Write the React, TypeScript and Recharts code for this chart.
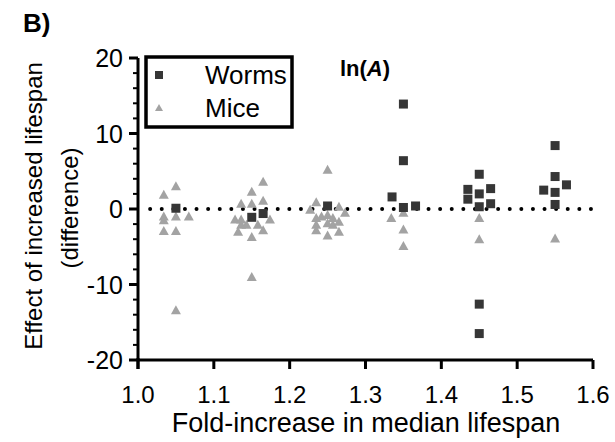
import { ScatterChart, Scatter, XAxis, YAxis, ReferenceLine } from "recharts";

const FONT = '"Liberation Sans", Arial, sans-serif';

// fold-increase in median lifespan (x) vs effect on ln(A) (y)
const wormsX = [1.05, 1.15, 1.165, 1.25, 1.35, 1.35, 1.335, 1.35, 1.366, 1.45, 1.435, 1.45, 1.465, 1.435, 1.45, 1.465, 1.45, 1.45, 1.55, 1.55, 1.565, 1.535, 1.55, 1.55];
const wormsY = [0.1, -1.1, -0.6, 0.4, 13.9, 6.4, 1.6, 0.2, 0.4, 4.6, 2.6, 2.0, 2.7, 1.3, 0.3, 0.7, -12.6, -16.5, 8.4, 4.3, 3.2, 2.5, 2.2, 0.6];

const miceX = [
  1.034, 1.05, 1.034, 1.034, 1.05, 1.067, 1.034, 1.05, 1.05,
  1.165, 1.15, 1.165, 1.136, 1.15, 1.128, 1.136, 1.174, 1.136, 1.143, 1.158, 1.132, 1.165, 1.15, 1.15,
  1.25, 1.235, 1.265, 1.273, 1.235, 1.235, 1.235, 1.242, 1.25, 1.257, 1.25, 1.257, 1.265, 1.265, 1.25, 1.227,
  1.334, 1.35, 1.35, 1.35,
  1.45, 1.45,
  1.55,
];
const miceY = [
  1.9, 3.0, -1.0, -1.5, -1.0, -1.0, -2.9, -2.9, -13.4,
  3.6, 2.3, 1.1, 0.7, 0.7, -1.4, -1.4, -1.4, -2.1, -2.1, -2.1, -3.0, -2.8, -3.7, -9.0,
  5.2, 0.9, 0.3, -0.5, -1.2, -2.1, -2.8, -1.0, -0.8, -1.2, -1.9, -2.1, -1.7, -3.0, -3.5, -0.1,
  -1.2, -0.5, -2.7, -4.9,
  -1.2, -4.0,
  -3.9,
];

const xTicks = [1.0, 1.1, 1.2, 1.3, 1.4, 1.5, 1.6];
const yTicks = [-20, -18, -16, -14, -12, -10, -8, -6, -4, -2, 0, 2, 4, 6, 8, 10, 12, 14, 16, 18, 20];

const worms = wormsX.map((x, i) => ({ x, y: wormsY[i] }));
const mice = miceX.map((x, i) => ({ x, y: miceY[i] }));

const WORM_COLOR = "#363636";
const MICE_COLOR = "#a3a3a3";

const SquareShape = (props: any) => {
  const { cx, cy } = props;
  return <rect x={cx - 4.5} y={cy - 4.5} width={9} height={9} fill={WORM_COLOR} />;
};

const TriangleShape = (props: any) => {
  const { cx, cy } = props;
  return (
    <polygon
      points={`${cx},${cy - 5} ${cx + 5},${cy + 4} ${cx - 5},${cy + 4}`}
      fill={MICE_COLOR}
    />
  );
};

const YTick = (props: any) => {
  const { x, y, payload } = props;
  const major = payload.value % 10 === 0;
  return (
    <g>
      <line x1={x} x2={x - (major ? 9 : 5)} y1={y} y2={y} stroke="#000" strokeWidth={major ? 3 : 2} />
      {major && (
        <text x={x - 15} y={y} textAnchor="end" dominantBaseline="central" fontSize={25} fontFamily={FONT} fill="#000">
          {payload.value}
        </text>
      )}
    </g>
  );
};

const legendItems = [
  { name: "Worms", kind: "square" },
  { name: "Mice", kind: "triangle" },
];

export default function App() {
  return (
    <div style={{ position: "absolute", left: 0, top: 0, width: 615, height: 442, background: "#fff" }}>
      <ScatterChart width={615} height={442} margin={{ top: 58, right: 22, bottom: 0, left: 0 }}>
        <XAxis
          type="number"
          dataKey="x"
          domain={[1.0, 1.6]}
          ticks={xTicks}
          tickFormatter={(v) => v.toFixed(1)}
          height={82}
          axisLine={{ stroke: "#000", strokeWidth: 3 }}
          tickLine={{ stroke: "#000", strokeWidth: 3 }}
          tickSize={9}
          tickMargin={17}
          tick={{ fill: "#000", fontSize: 24, fontFamily: FONT }}
          allowDataOverflow
        />
        <YAxis
          type="number"
          dataKey="y"
          domain={[-20, 20]}
          ticks={yTicks}
          width={138}
          axisLine={{ stroke: "#000", strokeWidth: 3 }}
          tickLine={false}
          tickSize={0}
          tickMargin={0}
          tick={<YTick />}
          interval={0}
          allowDataOverflow
        />
        <Scatter data={mice} shape={<TriangleShape />} isAnimationActive={false} />
        <Scatter data={worms} shape={<SquareShape />} isAnimationActive={false} />
        <ReferenceLine
          segment={[{ x: 1.016, y: 0 }, { x: 1.6, y: 0 }]}
          stroke="#000"
          strokeWidth={4}
          strokeDasharray="0 11.6"
          strokeLinecap="round"
        />
      </ScatterChart>
      <svg width={615} height={442} style={{ position: "absolute", left: 0, top: 0, pointerEvents: "none" }}>
        {/* y axis runs a little past the x axis, like the original */}
        <line x1={138} x2={138} y1={358} y2={369} stroke="#000" strokeWidth={3} />
        <text x={23} y={32} fontSize={26} fontWeight="bold" fontFamily={FONT}>B)</text>
        <text x={365} y={76} textAnchor="middle" fontSize={22} fontWeight="bold" fontFamily={FONT}>
          ln(<tspan fontStyle="italic">A</tspan>)
        </text>
        <text transform="translate(42,206) rotate(-90)" textAnchor="middle" fontSize={24} fontFamily={FONT}>
          Effect of increased lifespan
        </text>
        <text transform="translate(78,208) rotate(-90)" textAnchor="middle" fontSize={24} fontFamily={FONT}>
          (difference)
        </text>
        <text x={366} y={432} textAnchor="middle" fontSize={27} fontFamily={FONT}>
          Fold-increase in median lifespan
        </text>
        <rect x={146} y={57} width={146} height={70} fill="#fff" stroke="#000" strokeWidth={3.5} />
        {legendItems.map((item, i) => {
          const cy = 75 + i * 33;
          return (
            <g key={item.name}>
              {item.kind === "square" ? (
                <rect x={155} y={cy - 4} width={8} height={8} fill={WORM_COLOR} />
              ) : (
                <polygon points={`159,${cy - 4} 163,${cy + 3} 155,${cy + 3}`} fill={MICE_COLOR} />
              )}
              <text x={205} y={cy + 9} fontSize={26} fontFamily={FONT}>{item.name}</text>
            </g>
          );
        })}
      </svg>
    </div>
  );
}
